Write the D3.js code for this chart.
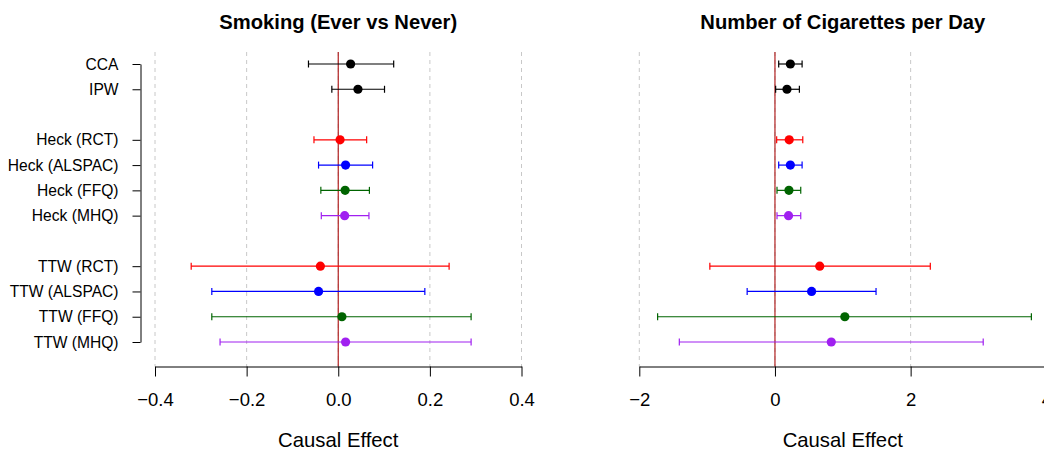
<!DOCTYPE html>
<html>
<head>
<meta charset="utf-8">
<script src="https://cdn.jsdelivr.net/npm/d3@7"></script>
<style>
  body { margin: 0; background: #fff; }
  svg { font-family: "Liberation Sans", Arial, sans-serif; }
</style>
</head>
<body>
<div id="chart"></div>
<script>
var svgWidth = 1044;
var svgHeight = 450;

// rows of the forest plot (gaps between groups via rowPos)
var methods = ["CCA", "IPW", "Heck (RCT)", "Heck (ALSPAC)", "Heck (FFQ)", "Heck (MHQ)",
               "TTW (RCT)", "TTW (ALSPAC)", "TTW (FFQ)", "TTW (MHQ)"];
var rowPos = [0, 1, 3, 4, 5, 6, 8, 9, 10, 11];
var colours = ["black", "black", "red", "blue", "#006400", "#A020F0",
               "red", "blue", "#006400", "#A020F0"];

// Smoking (ever vs never)
var smokeEst = [0.027, 0.043, 0.004, 0.016, 0.015, 0.014, -0.039, -0.043, 0.008, 0.016];
var smokeLo  = [-0.065, -0.014, -0.053, -0.043, -0.038, -0.037, -0.321, -0.276, -0.276, -0.258];
var smokeHi  = [0.121, 0.101, 0.062, 0.075, 0.068, 0.067, 0.242, 0.189, 0.290, 0.290];
var smokeTicks = [-0.4, -0.2, 0, 0.2, 0.4];

// Number of cigarettes per day
var cigEst = [0.227, 0.177, 0.21, 0.227, 0.206, 0.20, 0.66, 0.54, 1.03, 0.83];
var cigLo  = [0.055, 0.01, 0.025, 0.055, 0.03, 0.03, -0.96, -0.41, -1.73, -1.41];
var cigHi  = [0.40, 0.36, 0.41, 0.40, 0.38, 0.38, 2.29, 1.49, 3.78, 3.07];
var cigTicks = [-2, 0, 2, 4];

var svg = d3.select("#chart")
  .append("svg")
  .attr("width", svgWidth)
  .attr("height", svgHeight);

var yScale = d3.scaleLinear()
  .domain([0, 11])
  .range([64, 342]);

var plotTop = 52;
var axisY = 366.5;

// y axis with method labels
var leftAxis = d3.axisLeft(yScale)
  .tickValues(rowPos)
  .tickFormat(function(d) { return methods[rowPos.indexOf(d)]; })
  .tickSize(8)
  .tickSizeOuter(0)
  .tickPadding(14);

var yAxisG = svg.append("g")
  .attr("transform", "translate(140.5,0)")
  .call(leftAxis);
yAxisG.selectAll("text").style("font-size", "15.6px").attr("fill", "#000");
yAxisG.selectAll("line, path").attr("stroke", "#000");

function drawPanel(est, lo, hi, ticks, xRange, title, fmt) {
  var xScale = d3.scaleLinear()
    .domain([ticks[0], ticks[ticks.length - 1]])
    .range(xRange);

  var g = svg.append("g");

  // dashed grid at the ticks
  g.selectAll(".grid")
    .data(ticks)
    .enter()
    .append("line")
    .attr("x1", d => xScale(d))
    .attr("x2", d => xScale(d))
    .attr("y1", plotTop)
    .attr("y2", axisY)
    .attr("stroke", "#c8c8c8")
    .attr("stroke-dasharray", "4,4");

  // zero line
  g.append("line")
    .attr("x1", xScale(0))
    .attr("x2", xScale(0))
    .attr("y1", plotTop)
    .attr("y2", axisY)
    .attr("stroke", "#b22222")
    .attr("stroke-width", 1.2);

  // error bars
  g.selectAll(".bar")
    .data(est)
    .enter()
    .append("line")
    .attr("x1", (d, i) => xScale(lo[i]))
    .attr("x2", (d, i) => xScale(hi[i]))
    .attr("y1", (d, i) => yScale(rowPos[i]))
    .attr("y2", (d, i) => yScale(rowPos[i]))
    .attr("stroke", (d, i) => colours[i])
    .attr("stroke-width", 1.2);

  [lo, hi].forEach(function(ends) {
    g.selectAll(null)
      .data(ends)
      .enter()
      .append("line")
      .attr("x1", d => xScale(d))
      .attr("x2", d => xScale(d))
      .attr("y1", (d, i) => yScale(rowPos[i]) - 3.5)
      .attr("y2", (d, i) => yScale(rowPos[i]) + 3.5)
      .attr("stroke", (d, i) => colours[i])
      .attr("stroke-width", 1.2);
  });

  // point estimates
  g.selectAll(".pt")
    .data(est)
    .enter()
    .append("circle")
    .attr("cx", d => xScale(d))
    .attr("cy", (d, i) => yScale(rowPos[i]))
    .attr("r", 4.6)
    .attr("fill", (d, i) => colours[i]);

  // bottom axis
  var bottomAxis = d3.axisBottom(xScale)
    .tickValues(ticks)
    .tickFormat(fmt)
    .tickSize(10)
    .tickSizeOuter(0)
    .tickPadding(16);

  var ax = svg.append("g")
    .attr("transform", `translate(0, ${axisY})`)
    .call(bottomAxis);
  ax.selectAll("text").style("font-size", "18.5px").attr("fill", "#000");
  ax.selectAll("line, path").attr("stroke", "#000");

  var centre = (xScale.range()[0] + xScale.range()[1]) / 2;

  svg.append("text")
    .attr("x", centre)
    .attr("y", 447)
    .attr("text-anchor", "middle")
    .style("font-size", "20.3px")
    .text("Causal Effect");

  svg.append("text")
    .attr("x", centre)
    .attr("y", 29)
    .attr("text-anchor", "middle")
    .style("font-size", "20.2px")
    .style("font-weight", "bold")
    .text(title);
}

drawPanel(smokeEst, smokeLo, smokeHi, smokeTicks, [155, 521.5],
  "Smoking (Ever vs Never)", d3.format(".1f"));
drawPanel(cigEst, cigLo, cigHi, cigTicks, [639.3, 1046.3],
  "Number of Cigarettes per Day", d3.format("d"));
</script>
</body>
</html>
